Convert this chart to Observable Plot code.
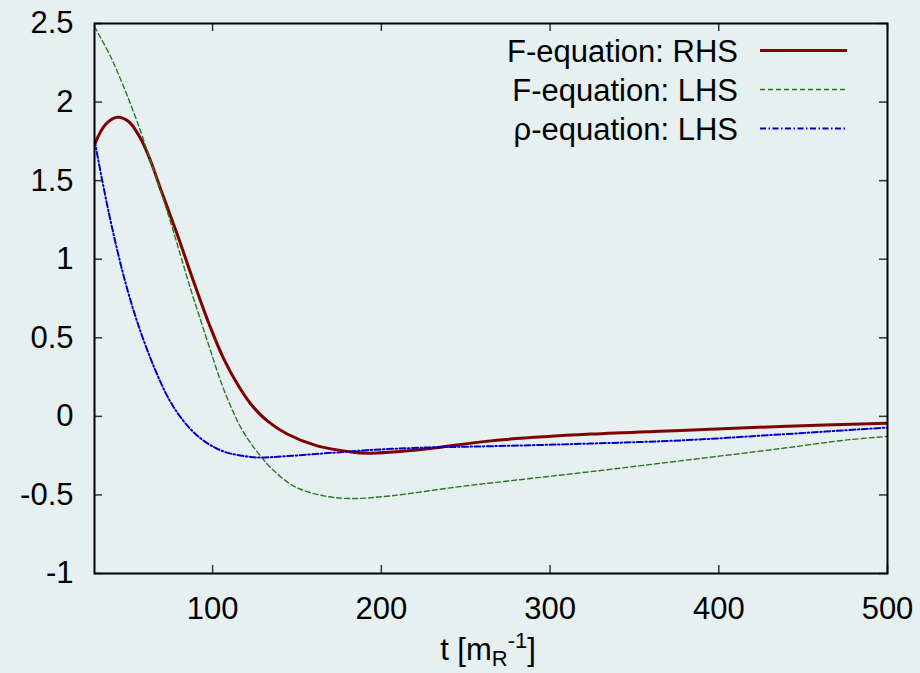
<!DOCTYPE html>
<html>
<head>
<meta charset="utf-8">
<script src="https://cdn.jsdelivr.net/npm/d3@7"></script>
<script src="https://cdn.jsdelivr.net/npm/@observablehq/plot@0.6"></script>
<style>
  html, body { margin: 0; padding: 0; background: #e6f0f0; }
  #chart { width: 920px; height: 673px; overflow: hidden; }
</style>
</head>
<body>
<div id="chart"></div>
<script>
// ---- data ----
const seriesNames = ["F-equation: RHS", "F-equation: LHS", "\u03c1-equation: LHS"];

const tRHS = [30, 36.5, 43.5, 50.2, 57.3, 63.2, 69.1, 76.1, 81, 86.9, 92.8, 98.8, 106.6, 114.6, 122.5, 132.4, 144.2, 162, 181.7, 191.6, 225.2, 264.7, 324, 377.4, 436.6, 500];
const vRHS = [1.729, 1.857, 1.903, 1.876, 1.768, 1.627, 1.449, 1.245, 1.099, 0.914, 0.736, 0.564, 0.366, 0.207, 0.08, -0.029, -0.112, -0.188, -0.226, -0.234, -0.209, -0.156, -0.113, -0.090, -0.064, -0.044];

const tFLHS = [30, 39.5, 47.4, 55.3, 63.2, 71.1, 77.0, 86.9, 92.8, 98.8, 104.7, 110.6, 116.5, 122.5, 128.4, 135.3, 146.2, 152.1, 165.9, 181.7, 205.5, 245, 284.5, 324, 377.4, 436.6, 476, 500];
const vFLHS = [2.48, 2.29, 2.094, 1.875, 1.627, 1.373, 1.169, 0.812, 0.615, 0.417, 0.226, 0.067, -0.067, -0.169, -0.252, -0.336, -0.432, -0.464, -0.506, -0.523, -0.506, -0.449, -0.40, -0.352, -0.283, -0.205, -0.150, -0.128];

const tRho = [30, 34.6, 39.5, 43.6, 47.4, 52, 57.3, 63, 67.2, 73, 79, 86.9, 94.8, 102.7, 110.6, 122.5, 128.4, 144.2, 171.8, 191.6, 225.2, 264.7, 324, 377.4, 436.6, 500];
const vRho = [1.76, 1.5, 1.245, 1.052, 0.889, 0.714, 0.539, 0.374, 0.265, 0.132, 0.025, -0.081, -0.156, -0.206, -0.237, -0.258, -0.262, -0.253, -0.231, -0.215, -0.199, -0.19, -0.173, -0.153, -0.115, -0.071];

const xTicks = [100, 200, 300, 400, 500];
const xTickLabels = ["100", "200", "300", "400", "500"];
const yTicks = [2.5, 2, 1.5, 1, 0.5, 0, -0.5, -1];
const yTickLabels = ["2.5", "2", "1.5", "1", "0.5", "0", "-0.5", "-1"];

// ---- build tables ----
const rhs = tRHS.map((t, i) => ({t, v: vRHS[i]}));
const flhs = tFLHS.map((t, i) => ({t, v: vFLHS[i]}));
const rho = tRho.map((t, i) => ({t, v: vRho[i]}));

const colors = ["#7f0000", "#2b7a1e", "#0000c8"];
const widths = [3, 1.4, 2];
const dashes = [null, "5,3", "6,2.5,1.5,2.5"];

const W = 920, H = 673;
const mL = 94, mR = 33, mT = 23, mB = 100;
const plotW = W - mL - mR, plotH = H - mT - mB;
const tickLen = 8;
const font = "'Liberation Sans', Arial, Helvetica, sans-serif";

const chart = Plot.plot({
  width: W,
  height: H,
  marginLeft: mL,
  marginRight: mR,
  marginTop: mT,
  marginBottom: mB,
  style: {background: "#e6f0f0", fontSize: "31px", fontFamily: font, color: "#000", overflow: "visible"},
  x: {domain: [30, 500], label: null},
  y: {domain: [-1, 2.5], label: null},
  marks: [
    Plot.axisX({ticks: xTicks, tickSize: 0, tickPadding: 23, tickFormat: d => xTickLabels[xTicks.indexOf(d)], fontSize: 31, fill: "#000", label: null}),
    Plot.axisY({ticks: yTicks, tickSize: 0, tickPadding: 21, tickFormat: d => yTickLabels[yTicks.indexOf(d)], fontSize: 31, fill: "#000", label: null}),
    // inward ticks on all four sides
    Plot.ruleX(xTicks, {x: d => d, insetTop: plotH - tickLen, stroke: "#333", strokeWidth: 1.5}),
    Plot.ruleX(xTicks, {x: d => d, insetBottom: plotH - tickLen, stroke: "#333", strokeWidth: 1.5}),
    Plot.ruleY(yTicks, {y: d => d, insetRight: plotW - tickLen, stroke: "#333", strokeWidth: 1.5}),
    Plot.ruleY(yTicks, {y: d => d, insetLeft: plotW - tickLen, stroke: "#333", strokeWidth: 1.5}),
    Plot.line(rhs, {x: "t", y: "v", stroke: colors[0], strokeWidth: widths[0], curve: "catmull-rom", clip: true}),
    Plot.line(flhs, {x: "t", y: "v", stroke: colors[1], strokeWidth: widths[1], strokeDasharray: dashes[1], curve: "catmull-rom", clip: true}),
    Plot.line(rho, {x: "t", y: "v", stroke: colors[2], strokeWidth: widths[2], strokeDasharray: dashes[2], curve: "catmull-rom", clip: true}),
    Plot.frame({stroke: "#000", strokeWidth: 2})
  ]
});

document.getElementById("chart").appendChild(chart);

// ---- legend (inside plot, top right) ----
const svg = d3.select(chart);
const leg = svg.append("g").attr("font-family", font).attr("font-size", 31).attr("fill", "#000");
seriesNames.forEach((name, i) => {
  const yy = 50.5 + i * 39;
  leg.append("text")
    .attr("x", 738).attr("y", yy + 11)
    .attr("text-anchor", "end")
    .text(name);
  const ln = leg.append("line")
    .attr("x1", 760).attr("x2", 847)
    .attr("y1", yy).attr("y2", yy)
    .attr("stroke", colors[i])
    .attr("stroke-width", widths[i]);
  if (dashes[i]) ln.attr("stroke-dasharray", dashes[i]);
});

// ---- x-axis label with subscript/superscript ----
const xl = svg.append("text")
  .attr("x", 488).attr("y", 660)
  .attr("text-anchor", "middle")
  .attr("font-family", font).attr("font-size", 31).attr("fill", "#000");
xl.append("tspan").text("t [m");
xl.append("tspan").attr("dy", 6).attr("font-size", 22).text("R");
xl.append("tspan").attr("dy", -18).attr("font-size", 22).text("-1");
xl.append("tspan").attr("dy", 12).text("]");
</script>
</body>
</html>
